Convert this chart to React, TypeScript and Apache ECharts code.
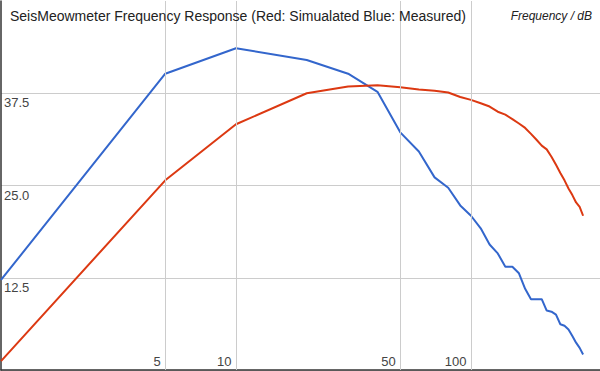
import React, { useEffect, useRef } from "react";
import * as echarts from "echarts";

const FONT = '"Liberation Sans", Arial, Helvetica, sans-serif';

const titleText = "SeisMeowmeter Frequency Response (Red: Simualated Blue: Measured)";
const axisTitle = "Frequency / dB";

const frequencies = [
  1, 5, 10, 20, 30, 40, 50, 60, 70, 80, 90, 100, 110, 120, 130, 140, 150, 160,
  170, 180, 190, 200, 210, 220, 230, 240, 250, 260, 270, 280, 290, 300,
];

const measured = [
  12.2, 40.15, 43.6, 42.0, 40.15, 37.7, 32.2, 29.6, 26.1, 24.7, 22.3, 20.9,
  19.2, 17.0, 15.8, 14.0, 14.0, 13.1, 11.0, 9.6, 9.6, 9.6, 8.05, 7.9, 7.5, 6.2,
  6.0, 5.5, 4.6, 3.7, 3.0, 2.1,
];

const simulated = [
  1.2, 25.7, 33.3, 37.5, 38.4, 38.6, 38.3, 38.0, 37.85, 37.6, 37.0, 36.6,
  36.15, 35.7, 35.0, 34.6, 34.0, 33.4, 32.8, 32.0, 31.2, 30.4, 29.9, 28.9,
  27.8, 26.7, 25.7, 24.6, 23.7, 22.7, 22.1, 20.9,
];

const xTickValues = [5, 10, 50, 100];

export default function App() {
  const ref = useRef<HTMLDivElement>(null);

  useEffect(() => {
    const chart = echarts.init(ref.current!, null, { renderer: "svg" });
    chart.setOption({
      animation: false,
      backgroundColor: "#ffffff",
      grid: {
        left: 1,
        right: 0,
        top: 1,
        bottom: 1,
        containLabel: false,
        outerBoundsMode: "none",
      },
      xAxis: {
        type: "log",
        logBase: 10,
        min: 1,
        max: 354,
        axisLine: { show: true, onZero: false, lineStyle: { color: "#333333", width: 1.5 } },
        axisTick: { show: false },
        axisLabel: { show: false },
        splitLine: { show: false },
        minorTick: { show: false },
        minorSplitLine: { show: false },
      },
      yAxis: {
        type: "value",
        min: 0,
        max: 50,
        interval: 12.5,
        axisLine: { show: true, lineStyle: { color: "#333333", width: 1.5 } },
        axisTick: { show: false },
        axisLabel: {
          inside: true,
          margin: 3,
          color: "#444444",
          fontSize: 13,
          fontFamily: FONT,
          verticalAlign: "top",
          padding: [3, 0, 0, 0],
          showMinLabel: false,
          showMaxLabel: false,
          formatter: (v: number) => v.toFixed(1),
        },
        splitLine: { show: true, showMaxLine: false, lineStyle: { color: "#cccccc", width: 1 } },
      },
      graphic: [
        {
          type: "text",
          x: 10,
          y: 16,
          z: 10,
          style: {
            text: titleText,
            font: `14px ${FONT}`,
            fill: "#222222",
            align: "left",
            verticalAlign: "middle",
          },
        },
        {
          type: "text",
          x: 592,
          y: 16,
          z: 10,
          style: {
            text: axisTitle,
            font: `italic 12px ${FONT}`,
            fill: "#222222",
            align: "right",
            verticalAlign: "middle",
          },
        },
      ],
      series: [
        {
          type: "scatter",
          z: 1,
          silent: true,
          symbolSize: 1,
          itemStyle: { color: "rgba(0,0,0,0)", opacity: 1 },
          emphasis: { disabled: true },
          data: xTickValues.map((v) => [v, 0]),
          label: {
            show: true,
            position: [-4, -2],
            align: "right",
            verticalAlign: "bottom",
            color: "#444444",
            opacity: 1,
            fontSize: 13,
            fontFamily: FONT,
            formatter: (p: any) => String(p.value[0]),
          },
          markLine: {
            silent: true,
            animation: false,
            symbol: ["none", "none"],
            label: { show: false },
            lineStyle: { color: "#cccccc", width: 1, type: "solid", opacity: 1 },
            emphasis: { disabled: true },
            data: xTickValues.map((v) => ({ xAxis: v })),
          },
        },
        {
          name: "Measured",
          type: "line",
          z: 3,
          showSymbol: false,
          symbol: "none",
          data: frequencies.map((f, i) => [f, measured[i]]),
          lineStyle: { color: "#3366cc", width: 2 },
          itemStyle: { color: "#3366cc" },
        },
        {
          name: "Simulated",
          type: "line",
          z: 3,
          showSymbol: false,
          symbol: "none",
          data: frequencies.map((f, i) => [f, simulated[i]]),
          lineStyle: { color: "#dc3912", width: 2 },
          itemStyle: { color: "#dc3912" },
        },
      ],
    });
    return () => chart.dispose();
  }, []);

  return (
    <div
      ref={ref}
      style={{ position: "fixed", left: 0, top: 0, width: 600, height: 371, background: "#fff" }}
    />
  );
}
